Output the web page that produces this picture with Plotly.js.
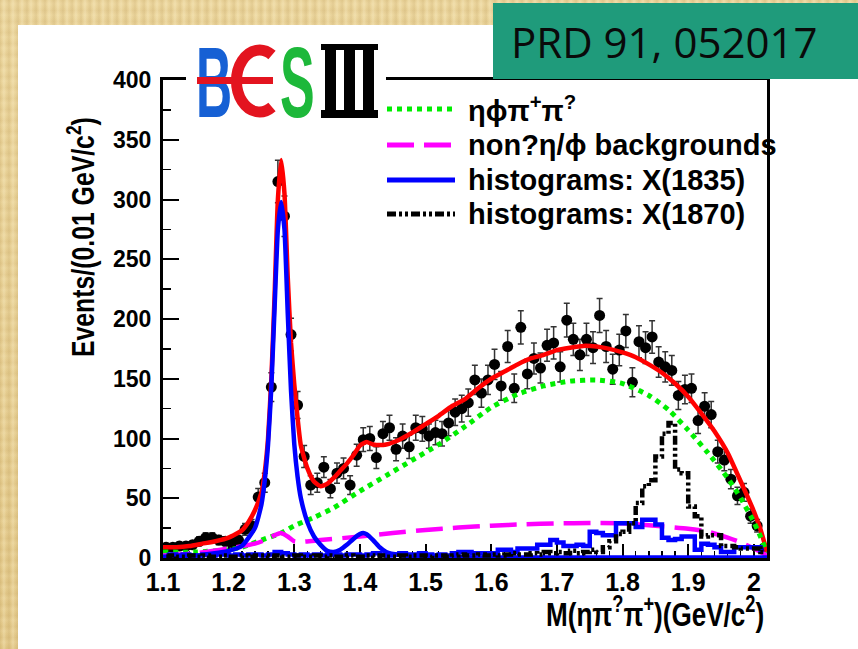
<!DOCTYPE html>
<html><head><meta charset="utf-8">
<script src="https://cdn.plot.ly/plotly-3.0.1.min.js"></script>
<style>
html,body{margin:0;padding:0;}
body{width:858px;height:649px;overflow:hidden;position:relative;
background:
 repeating-linear-gradient(90deg, rgba(150,110,40,0.12) 0px, rgba(150,110,40,0.0) 2px, rgba(255,246,214,0.25) 4px, rgba(150,110,40,0.0) 6px, rgba(140,100,30,0.10) 9px),
 repeating-linear-gradient(0deg, rgba(170,130,60,0.08) 0px, rgba(170,130,60,0.0) 4px, rgba(255,240,200,0.12) 7px, rgba(170,130,60,0.06) 11px),
 linear-gradient(180deg,#ebd59c,#e3c98a);}
#panel{position:absolute;left:18px;top:25px;width:840px;height:624px;background:#fff;}
#chart{position:absolute;left:0;top:0;width:858px;height:649px;}
#logo{position:absolute;left:0;top:0;pointer-events:none;}
</style></head>
<body>
<div id="panel"></div>
<div id="chart"></div>
<svg id="logo" width="858" height="649" xmlns="http://www.w3.org/2000/svg">
 <rect x="186" y="38" width="200" height="84" fill="#fff"/>
 <text transform="translate(196,117) scale(0.5,1)" font-family="Liberation Sans, Arial, sans-serif" font-weight="bold" font-size="100" fill="#1660d4">B</text>
 <path d="M 272 55 A 23 31 0 1 0 272 107" fill="none" stroke="#e3141f" stroke-width="11"/>
 <rect x="197" y="77" width="76" height="7" fill="#e3141f"/>
 <text transform="translate(280,117) scale(0.52,1)" font-family="Liberation Sans, Arial, sans-serif" font-weight="bold" font-size="100" fill="#1db83a">S</text>
 <rect x="321" y="44" width="57" height="6" fill="#000"/>
 <rect x="321" y="110" width="57" height="8" fill="#000"/>
 <rect x="325" y="44" width="11" height="74" fill="#000"/>
 <rect x="344" y="44" width="11" height="74" fill="#000"/>
 <rect x="363" y="44" width="11" height="74" fill="#000"/>
</svg>
<script>
// ---- data ----
var binCenters = [
 1.105,1.115,1.125,1.135,1.145,1.155,1.165,1.175,1.185,1.195,
 1.205,1.215,1.225,1.235,1.245,1.255,1.265,1.275,1.285,1.295,
 1.305,1.315,1.325,1.335,1.345,1.355,1.365,1.375,1.385,1.395,
 1.405,1.415,1.425,1.435,1.445,1.455,1.465,1.475,1.485,1.495,
 1.505,1.515,1.525,1.535,1.545,1.555,1.565,1.575,1.585,1.595,
 1.605,1.615,1.625,1.635,1.645,1.655,1.665,1.675,1.685,1.695,
 1.705,1.715,1.725,1.735,1.745,1.755,1.765,1.775,1.785,1.795,
 1.805,1.815,1.825,1.835,1.845,1.855,1.865,1.875,1.885,1.895,
 1.905,1.915,1.925,1.935,1.945,1.955,1.965,1.975,1.985,1.995,
 2.005,2.015];
var events = [
 9,9,10,10,11,14,17,17,15,14,
 13,15,24,27,51,63,143,315,286,187,
 128,85,61,63,76,58,71,75,61,86,
 99,100,84,104,109,91,102,93,109,108,
 102,105,104,113,122,125,130,149,138,149,
 162,144,177,142,193,154,167,159,178,180,
 160,199,183,170,183,176,203,177,158,174,
 190,147,181,176,185,164,160,157,136,141,
 142,115,127,120,89,82,66,52,55,35,
 27,8];
var histX1835 = [
 2,3,2,3,2,2,3,2,3,3,
 2,3,2,3,3,2,3,5,4,3,
 2,3,2,3,2,3,3,2,3,3,
 2,3,4,3,2,3,4,3,3,4,
 3,2,3,2,4,5,5,4,4,4,
 4,7,7,5,8,8,8,11,11,15,
 13,10,10,11,10,22,21,19,19,29,
 29,29,26,32,32,28,17,15,16,18,
 18,7,12,11,9,5,5,9,9,9,
 9,7];
var histX1870 = [
 1,2,1,1,2,1,2,1,1,2,
 1,1,2,1,2,2,1,2,1,1,
 2,1,1,2,1,2,1,1,2,1,
 1,2,1,2,1,1,2,1,2,2,
 1,2,2,1,2,3,2,2,3,2,
 3,2,3,4,3,3,4,3,5,4,
 5,4,6,4,5,7,5,9,14,20,
 22,29,46,60,65,85,104,113,74,71,
 43,35,18,19,19,10,10,9,8,8,
 8,5];
var totalFitX = [1.10,1.12,1.14,1.16,1.18,1.20,1.22,1.23,1.24,1.25,1.255,1.26,1.265,1.27,1.275,1.28,1.285,1.29,1.295,1.30,1.305,1.31,1.32,1.33,1.34,1.35,1.36,1.37,1.38,1.39,1.40,1.41,1.42,1.43,1.44,1.46,1.48,1.50,1.52,1.54,1.56,1.58,1.60,1.62,1.64,1.66,1.68,1.70,1.72,1.74,1.76,1.78,1.80,1.82,1.84,1.86,1.88,1.90,1.92,1.94,1.96,1.98,2.00,2.01,2.02];
var totalFitY = [9,9,10,12,14,17,23,30,40,55,72,100,150,220,300,333,305,235,180,145,117,94,75,64,60,62,67,73,79,86,94,97,95,94.5,95,99,105,112,119,127,133,142,150,156,162,167,170,174,176,177.5,177,175,172,168,162,155,146,135,121,106,88,64,39,24,5];
var etaPhiPiPiX = [1.10,1.15,1.20,1.22,1.25,1.28,1.30,1.33,1.36,1.40,1.44,1.48,1.52,1.56,1.60,1.64,1.68,1.72,1.76,1.80,1.84,1.87,1.90,1.93,1.96,1.98,2.00,2.01,2.02];
var etaPhiPiPiY = [5,5,7,9,15,21,27,34,42,56,69,82,95,110,126,137,144,148,149,146,136,124,107,88,67,50,30,18,4];
var nonEtaPhiX = [1.10,1.15,1.20,1.24,1.26,1.27,1.28,1.29,1.30,1.31,1.34,1.40,1.45,1.50,1.55,1.60,1.65,1.70,1.75,1.80,1.85,1.90,1.93,1.96,1.98,2.00,2.02];
var nonEtaPhiY = [2,4,8,12,16,19,21,18,14,13.5,15,18,21,23.5,25.5,27,28.2,29,29.2,29,27,24.5,22,17,13,8,2];
var resonanceX = [1.10,1.15,1.20,1.22,1.24,1.25,1.255,1.26,1.265,1.27,1.275,1.28,1.285,1.29,1.295,1.30,1.305,1.31,1.32,1.33,1.34,1.35,1.36,1.37,1.38,1.39,1.40,1.405,1.41,1.42,1.43,1.44,1.46,1.50,1.60,1.80,2.02];
var resonanceY = [1,2,6,10,25,45,65,95,143,210,275,298,275,205,140,95,68,50,30,18,11,6,5,7,11,16,20,21,20,15,9,5,2.5,1,0.5,0.5,0.5];
var legendNames = ['ηϕπ<sup>+</sup>π<sup>?</sup>','non?η/ϕ backgrounds','histograms: X(1835)','histograms: X(1870)'];

// ---- styling ----
var sans = "'Liberation Sans',Arial,sans-serif";
function px2x(p){return (p-163)/604;}
function px2y(p){return (558-p)/478;}

var styles = [
 {color:'#00ee00', width:5, dash:'5px,5px'},
 {color:'#ff00ff', width:5, dash:'27px,10px'},
 {color:'#0000ff', width:5, dash:'solid'},
 {color:'#000000', width:5, dash:'9px,3px,3px,3px,3px,3px'}
];

var traces = [
 {x:binCenters, y:events, type:'scatter', mode:'markers', name:'data',
  marker:{color:'#000', size:11},
  error_y:{type:'sqrt', color:'#333', thickness:1.5, width:3}},
 {x:totalFitX, y:totalFitY, type:'scatter', mode:'lines', name:'total fit',
  line:{color:'#ff0000', width:4.5, shape:'spline', smoothing:0.5}},
 {x:etaPhiPiPiX, y:etaPhiPiPiY, type:'scatter', mode:'lines', name:legendNames[0],
  line:{color:styles[0].color, width:5, dash:styles[0].dash, shape:'spline', smoothing:0.6}},
 {x:nonEtaPhiX, y:nonEtaPhiY, type:'scatter', mode:'lines', name:legendNames[1],
  line:{color:styles[1].color, width:4.5, dash:'27px,10px', shape:'spline', smoothing:0.6}},
 {x:resonanceX, y:resonanceY, type:'scatter', mode:'lines', name:'resonances',
  line:{color:'#0000ff', width:4.5, shape:'spline', smoothing:0.5}},
 {x:binCenters, y:histX1835, type:'scatter', mode:'lines', name:legendNames[2],
  line:{color:'#0000ff', width:4.5, shape:'hvh'}},
 {x:binCenters, y:histX1870, type:'scatter', mode:'lines', name:legendNames[3],
  line:{color:'#000', width:4.5, shape:'hvh', dash:'9px,3px,3px,3px,3px,3px'}}
];

var shapes = [
  {type:'rect', xref:'paper', yref:'paper', x0:px2x(493), x1:px2x(860), y0:px2y(79), y1:px2y(3),
   fillcolor:'#1f9b7b', line:{width:0}, layer:'above'}
];
var annotations = [
  {text:'M(ηπ<sup>?</sup>π<sup>+</sup>)(GeV/c<sup>2</sup>)', xref:'paper', yref:'paper',
   x:px2x(766), xanchor:'right', y:px2y(612), yanchor:'middle', showarrow:false,
   font:{family:sans, size:33, weight:'bold', color:'#000'}},
  {text:'Events/(0.01 GeV/c<sup>2</sup>)', xref:'paper', yref:'paper', textangle:-90,
   x:px2x(81), xanchor:'center', y:px2y(237), yanchor:'middle', showarrow:false,
   font:{family:sans, size:31, weight:'bold', color:'#000'}},
  {text:'PRD 91, 052017', xref:'paper', yref:'paper', x:px2x(664), xanchor:'center',
   y:px2y(42), yanchor:'middle', showarrow:false,
   font:{family:"'Open Sans',sans-serif", size:42, color:'#0a0a0a'}}
];
var legendRows = [109, 145, 180, 214];
for (var i = 0; i < legendNames.length; i++) {
  shapes.push({type:'line', xref:'paper', yref:'paper', x0:px2x(387), x1:px2x(455),
    y0:px2y(legendRows[i]), y1:px2y(legendRows[i]), layer:'above',
    line:{color:styles[i].color, width:styles[i].width, dash:styles[i].dash}});
  annotations.push({text:legendNames[i], xref:'paper', yref:'paper', x:px2x(466), xanchor:'left',
    y:px2y(legendRows[i]), yanchor:'middle', showarrow:false,
    font:{family:sans, size:29, weight:'bold', color:'#000'}});
}

var layout = {
 width:858, height:649,
 margin:{l:163, r:91, t:80, b:91, pad:0},
 paper_bgcolor:'rgba(0,0,0,0)', plot_bgcolor:'#fff',
 showlegend:false,
 xaxis:{range:[1.1,2.02], dtick:0.1, tick0:1.1, ticks:'inside', ticklen:14, tickwidth:2, tickcolor:'#000',
   showline:true, linewidth:3, linecolor:'#000', mirror:true, showgrid:false, zeroline:false, layer:'below traces',
   minor:{dtick:0.02, tick0:1.1, ticks:'inside', ticklen:7, tickwidth:1.5, tickcolor:'#000', showgrid:false},
   tickfont:{family:sans, size:25, weight:'bold', color:'#000'}, ticklabelstandoff:0},
 yaxis:{range:[0,400], dtick:50, ticks:'inside', ticklen:16, tickwidth:2, tickcolor:'#000',
   showline:true, linewidth:3, linecolor:'#000', mirror:true, showgrid:false, zeroline:false, layer:'below traces',
   minor:{dtick:25, ticks:'inside', ticklen:8, tickwidth:1.5, tickcolor:'#000', showgrid:false},
   tickfont:{family:sans, size:23, weight:'bold', color:'#000'}, ticklabelstandoff:4},
 shapes:shapes,
 annotations:annotations
};

Plotly.newPlot('chart', traces, layout, {displayModeBar:false, staticPlot:true}).then(function(gd){
  // condensed look of the axis titles in the original figure
  var squeeze = [[0,'right center',0.79],[1,'center center',0.8]];
  squeeze.forEach(function(s){
    var t = gd.querySelector('g.annotation[data-index="'+s[0]+'"] text.annotation-text');
    if (t) { t.style.transformBox = 'fill-box'; t.style.transformOrigin = s[1]; t.style.transform = 'scaleX(' + s[2] + ')'; }
  });
});
</script>
</body></html>
